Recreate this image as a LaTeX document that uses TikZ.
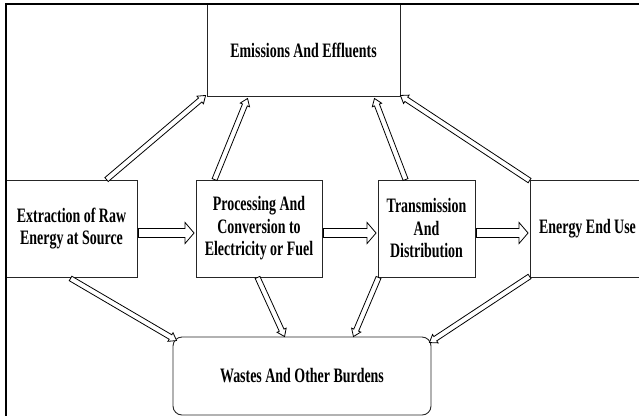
\documentclass[tikz,border=0pt]{standalone}
\usepackage{fontspec}
\setmainfont{Liberation Serif}[FakeStretch=0.68]
\usetikzlibrary{calc}
\tikzset{
  box/.style={draw=black!85, line width=0.9pt, inner sep=0pt, align=center,
    font=\bfseries\fontsize{20.5}{22.5}\selectfont},
  arrowline/.style={draw=black, line width=0.8pt, fill=white, line join=miter},
  frameline/.style={draw=black},
}
% #1 from, #2 to, #3 shaft half width, #4 head half width, #5 head length
\newcommand\hollowarrow[5]{%
  \coordinate (hb) at ($(#2)!#5!(#1)$);
  \draw[arrowline] ($(#1)!#3!90:(#2)$) -- ($(hb)!#3!90:(#2)$) -- ($(hb)!#4!90:(#2)$)
    -- (#2) -- ($(hb)!#4!-90:(#2)$) -- ($(hb)!#3!-90:(#2)$) -- ($(#1)!#3!-90:(#2)$) -- cycle;
}
\begin{document}
\begin{tikzpicture}[x=1pt,y=-1pt]
\useasboundingbox (0,0) rectangle (639,416);
\clip (0,0) rectangle (639,416);
\fill[white] (0,0) rectangle (639,416);

% boxes
\node[box, minimum width=193pt, minimum height=92pt] (emis) at (303.5,50) {\raisebox{-4pt}{Emissions And Effluents}};
\node[box, minimum width=131pt, minimum height=97pt] (ext) at (71.5,228.5) {Extraction of Raw\\Energy at Source};
\node[box, minimum width=126pt, minimum height=97pt] (proc) at (259,228.5) {Processing And\\Conversion to\\Electricity or Fuel};
\node[box, minimum width=97pt, minimum height=97pt] (trans) at (426.5,228.5) {Transmission\\And\\Distribution};
\node[box, minimum width=115pt, minimum height=97pt] (enduse) at (587.5,228.5) {Energy End Use};
\node[box, rounded corners=9pt, minimum width=258pt, minimum height=78pt] (wastes) at (302,376) {\raisebox{-5pt}{Wastes And Other Burdens}};

% frame
\draw[frameline, line width=2.6pt] (5,4) -- (639,4);
\draw[frameline, line width=2pt] (6,4) -- (6,416);

% horizontal flows
\coordinate (h1s) at ($(ext.east)+(1,4.5)$);
\coordinate (h1e) at ($(proc.west)+(-1.5,4.5)$);
\coordinate (h2s) at ($(proc.east)+(1,4.5)$);
\coordinate (h2e) at ($(trans.west)+(-1.5,4.5)$);
\coordinate (h3s) at ($(trans.east)+(1,4.5)$);
\coordinate (h3e) at ($(enduse.west)+(-1.5,4.5)$);
\hollowarrow{h1s}{h1e}{4.5pt}{10.5pt}{9pt}
\hollowarrow{h2s}{h2e}{4.5pt}{10.5pt}{9pt}
\hollowarrow{h3s}{h3e}{4.5pt}{10.5pt}{9pt}

% to emissions
\coordinate (d1s) at ($(ext.north west)+(101,0)$);
\coordinate (d1e) at ($(emis.south west)+(-1,-1)$);
\coordinate (d2s) at ($(proc.north west)+(19,0)$);
\coordinate (d2e) at ($(emis.south west)+(41,2)$);
\coordinate (d3s) at ($(trans.north west)+(28,0)$);
\coordinate (d3e) at ($(emis.south east)+(-26,2)$);
\coordinate (d4s) at ($(enduse.north west)+(0,1)$);
\coordinate (d4e) at ($(emis.south east)+(0,-1)$);
\hollowarrow{d1s}{d1e}{2.6pt}{5pt}{7pt}
\hollowarrow{d2s}{d2e}{2.6pt}{5pt}{7pt}
\hollowarrow{d3s}{d3e}{2.6pt}{5pt}{7pt}
\hollowarrow{d4s}{d4e}{2.6pt}{5pt}{7pt}

% to wastes
\coordinate (w1s) at ($(ext.south west)+(65,1)$);
\coordinate (w1e) at ($(wastes.north west)+(4,4)$);
\coordinate (w2s) at ($(proc.south west)+(62,0)$);
\coordinate (w2e) at ($(wastes.north west)+(112,0)$);
\coordinate (w3s) at ($(trans.south west)+(1,0)$);
\coordinate (w3e) at ($(wastes.north east)+(-78,0)$);
\coordinate (w4s) at ($(enduse.south west)+(0,-1)$);
\coordinate (w4e) at ($(wastes.north east)+(-2,6)$);
\hollowarrow{w1s}{w1e}{2.6pt}{5pt}{7pt}
\hollowarrow{w2s}{w2e}{2.6pt}{5pt}{7pt}
\hollowarrow{w3s}{w3e}{2.6pt}{5pt}{7pt}
\hollowarrow{w4s}{w4e}{2.6pt}{5pt}{7pt}
\end{tikzpicture}
\end{document}
